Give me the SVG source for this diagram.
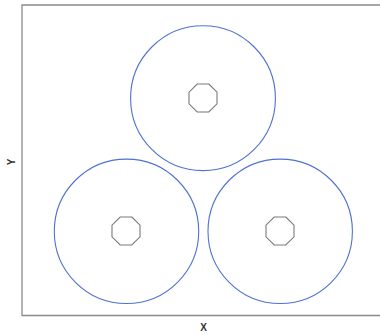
<svg xmlns="http://www.w3.org/2000/svg" width="380" height="335" viewBox="0 0 380 335">
<defs>
<style>
.frame{fill:none;stroke:#8a8a8a;stroke-width:1.3}
.outer{fill:none;stroke:#5072d0;stroke-width:1.1}
.inner{fill:none;stroke:#7a7a7a;stroke-width:1.1}
.lbl{font-family:"Liberation Sans",Arial,sans-serif;font-size:10px;fill:#333;font-weight:bold}
</style>
<polygon id="oct" class="inner" points="5.8,-14 14,-5.8 14,5.8 5.8,14 -5.8,14 -14,5.8 -14,-5.8 -5.8,-14"/>
</defs>
<rect x="0" y="0" width="380" height="335" fill="#fff"/>
<path class="frame" d="M385,5 H22 V315.5 H385"/>
<g id="top">
<circle class="outer" cx="203" cy="98.2" r="72.4"/>
<use href="#oct" x="203" y="98"/>
</g>
<g id="left">
<circle class="outer" cx="126.5" cy="231.3" r="72.2"/>
<use href="#oct" x="126" y="231"/>
</g>
<g id="right">
<circle class="outer" cx="280.2" cy="231.3" r="72.2"/>
<use href="#oct" x="280" y="231"/>
</g>
<g id="connectors"></g>
<text class="lbl" x="203.5" y="330.5" text-anchor="middle">X</text>
<text class="lbl" x="0" y="0" text-anchor="middle" transform="translate(14.5,162) rotate(-90)">Y</text>
</svg>
